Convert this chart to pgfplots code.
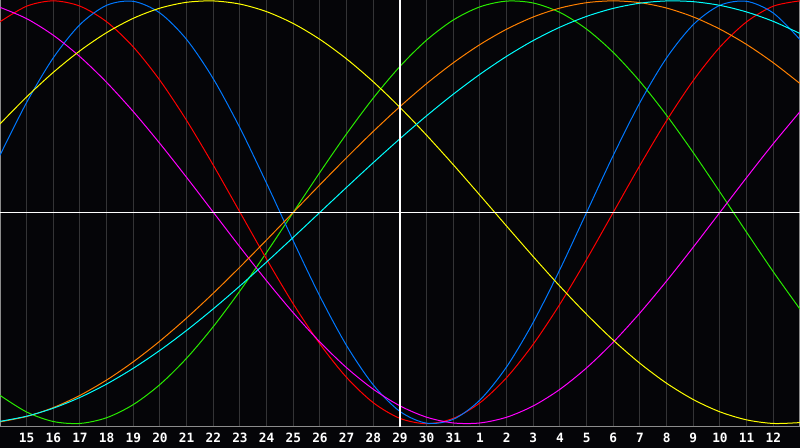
\documentclass[border=0pt]{standalone}
\usepackage{pgfplots}
\pgfplotsset{compat=1.18}
\usepackage{fontspec}
\setmonofont{DejaVu Sans Mono}

\definecolor{bg}{RGB}{5,5,8}
\definecolor{gridgray}{RGB}{52,52,54}
\definecolor{framegray}{RGB}{140,140,140}
\definecolor{cphys}{RGB}{0,120,255}
\definecolor{cemo}{RGB}{255,0,0}
\definecolor{cint}{RGB}{40,235,0}
\definecolor{cintu}{RGB}{255,0,255}
\definecolor{caes}{RGB}{255,255,0}
\definecolor{caw}{RGB}{255,128,0}
\definecolor{cspi}{RGB}{0,255,255}

\begin{document}
\begin{tikzpicture}[x=1pt,y=1pt]
\fill[bg] (0,0) rectangle (400,224);
\begin{axis}[
    at={(0,10)}, anchor=south west,
    scale only axis,
    width=400pt, height=214pt,
    xmin=0, xmax=30,
    ymin=-1.015, ymax=1.0095,
    axis line style={draw=framegray, line width=0.5pt},
    xtick={1,...,29},
    xticklabels={15,16,17,18,19,20,21,22,23,24,25,26,27,28,29,30,31,1,2,3,4,5,6,7,8,9,10,11,12},
    ytick=\empty,
    major tick length=0pt,
    xmajorgrids,
    grid style={draw=gridgray, line width=0.5pt},
    xticklabel style={font=\ttfamily\bfseries\fontsize{6.4}{7}\selectfont, text=white, anchor=center, yshift=-5.4pt},
    every axis plot/.append style={line width=0.5pt, smooth, no markers},
]

% intellectual, 33 days
\addplot[cint] coordinates {
(0,-0.8660) (1,-0.9450) (2,-0.9898) (3,-0.9989) (4,-0.9718) (5,-0.9096)
(6,-0.8146) (7,-0.6901) (8,-0.5406) (9,-0.3717) (10,-0.1893) (11,0)
(12,0.1893) (13,0.3717) (14,0.5406) (15,0.6901) (16,0.8146) (17,0.9096)
(18,0.9718) (19,0.9989) (20,0.9898) (21,0.9450) (22,0.8660) (23,0.7557)
(24,0.6182) (25,0.4582) (26,0.2817) (27,0.0951) (28,-0.0951) (29,-0.2817)
(30,-0.4582)
};

% emotional, 28 days
\addplot[cemo] coordinates {
(0,0.9010) (1,0.9749) (2,1) (3,0.9749) (4,0.9010) (5,0.7818)
(6,0.6235) (7,0.4339) (8,0.2225) (9,0) (10,-0.2225) (11,-0.4339)
(12,-0.6235) (13,-0.7818) (14,-0.9010) (15,-0.9749) (16,-1) (17,-0.9749)
(18,-0.9010) (19,-0.7818) (20,-0.6235) (21,-0.4339) (22,-0.2225) (23,0)
(24,0.2225) (25,0.4339) (26,0.6235) (27,0.7818) (28,0.9010) (29,0.9749)
(30,1)
};

% physical, 23 days
\addplot[cphys] coordinates {
(0,0.2698) (1,0.5196) (2,0.7308) (3,0.8879) (4,0.9791) (5,0.9977)
(6,0.9423) (7,0.8170) (8,0.6311) (9,0.3984) (10,0.1362) (11,-0.1362)
(12,-0.3984) (13,-0.6311) (14,-0.8170) (15,-0.9423) (16,-0.9977) (17,-0.9791)
(18,-0.8879) (19,-0.7308) (20,-0.5196) (21,-0.2698) (22,0) (23,0.2698)
(24,0.5196) (25,0.7308) (26,0.8879) (27,0.9791) (28,0.9977) (29,0.9423)
(30,0.8170)
};

% intuitive, 38 days
\addplot[cintu] coordinates {
(0,0.9694) (1,0.9158) (2,0.8372) (3,0.7357) (4,0.6142) (5,0.4759)
(6,0.3247) (7,0.1646) (8,0) (9,-0.1646) (10,-0.3247) (11,-0.4759)
(12,-0.6142) (13,-0.7357) (14,-0.8372) (15,-0.9158) (16,-0.9694) (17,-0.9966)
(18,-0.9966) (19,-0.9694) (20,-0.9158) (21,-0.8372) (22,-0.7357) (23,-0.6142)
(24,-0.4759) (25,-0.3247) (26,-0.1646) (27,0) (28,0.1646) (29,0.3247)
(30,0.4759)
};

% aesthetic, 43 days
\addplot[caes] coordinates {
(0,0.4179) (1,0.5457) (2,0.6619) (3,0.7640) (4,0.8499) (5,0.9175)
(6,0.9656) (7,0.9932) (8,0.9996) (9,0.9847) (10,0.9488) (11,0.8927)
(12,0.8175) (13,0.7250) (14,0.6169) (15,0.4958) (16,0.3640) (17,0.2246)
(18,0.0803) (19,-0.0657) (20,-0.2103) (21,-0.3504) (22,-0.4830) (23,-0.6053)
(24,-0.7147) (25,-0.8090) (26,-0.8860) (27,-0.9441) (28,-0.9820) (29,-0.9990)
(30,-0.9948)
};

% awareness, 48 days
\addplot[caw] coordinates {
(0,-0.9914) (1,-0.9659) (2,-0.9239) (3,-0.8660) (4,-0.7934) (5,-0.7071)
(6,-0.6088) (7,-0.5) (8,-0.3827) (9,-0.2588) (10,-0.1305) (11,0)
(12,0.1305) (13,0.2588) (14,0.3827) (15,0.5) (16,0.6088) (17,0.7071)
(18,0.7934) (19,0.8660) (20,0.9239) (21,0.9659) (22,0.9914) (23,1)
(24,0.9914) (25,0.9659) (26,0.9239) (27,0.8660) (28,0.7934) (29,0.7071)
(30,0.6088)
};

% spiritual, 53 days
\addplot[cspi] coordinates {
(0,-0.9890) (1,-0.9646) (2,-0.9267) (3,-0.8757) (4,-0.8125) (5,-0.7378)
(6,-0.6528) (7,-0.5586) (8,-0.4566) (9,-0.3482) (10,-0.2349) (11,-0.1183)
(12,0) (13,0.1183) (14,0.2349) (15,0.3482) (16,0.4566) (17,0.5586)
(18,0.6528) (19,0.7378) (20,0.8125) (21,0.8757) (22,0.9267) (23,0.9646)
(24,0.9890) (25,0.9996) (26,0.9961) (27,0.9786) (28,0.9473) (29,0.9028)
(30,0.8456)
};

% today and zero lines
\addplot[white, sharp plot, line width=0.7pt] coordinates {(0,0) (30,0)};
\addplot[white, sharp plot, line width=0.7pt] coordinates {(15,-1.1) (15,1.1)};

\end{axis}
\pgfresetboundingbox
\useasboundingbox (0,0) rectangle (400,224);
\end{tikzpicture}
\end{document}
